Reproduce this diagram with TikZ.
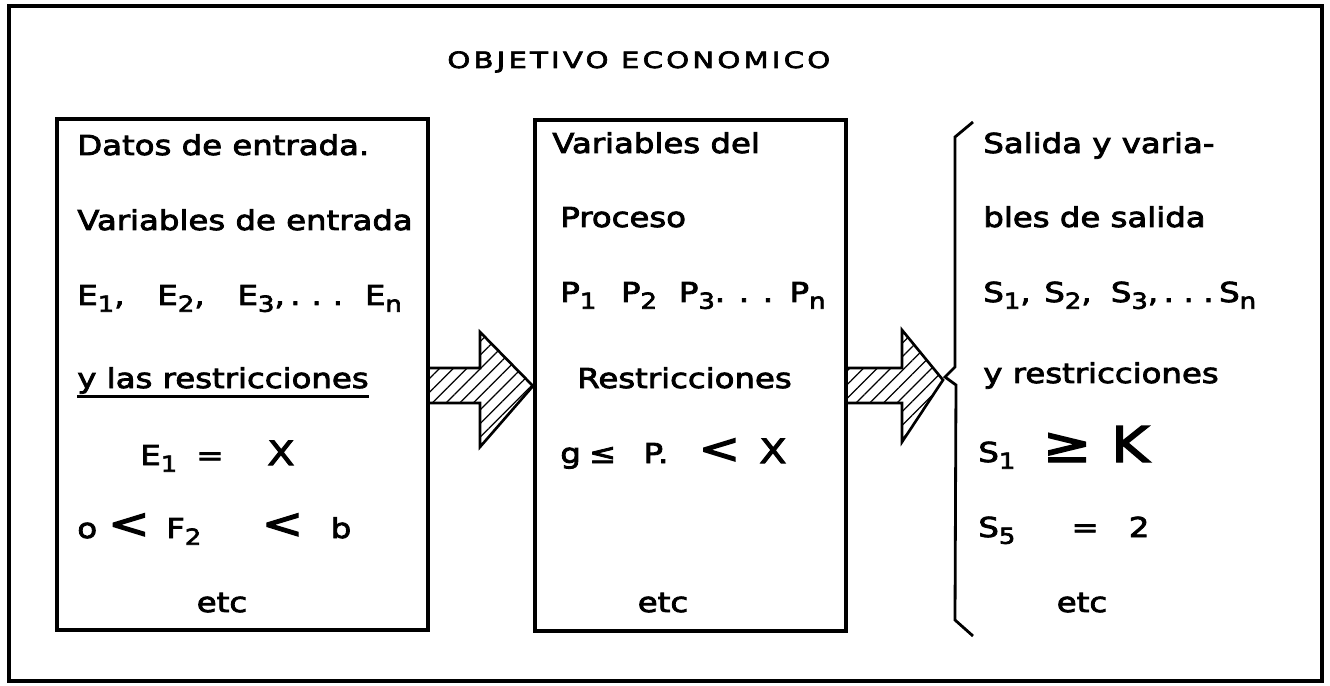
\documentclass[tikz,border=0pt]{standalone}
\usepackage{fontspec}
\setmainfont{DejaVu Sans}[FakeStretch=1.18,FakeBold=3]
\newfontfamily\titlefont{DejaVu Sans}[FakeStretch=1.3,LetterSpace=14,FakeBold=3]
\usetikzlibrary{patterns.meta}
\newcommand\idx[1]{\raisebox{-0.45ex}{\fontsize{12.5}{12.5}\selectfont #1}}
\newcommand\hwsym[1]{{\fontsize{24}{24}\selectfont #1}}
\tikzset{
  frame/.style={line width=2pt,black},
  blk/.style={line width=2pt,black},
  txt/.style={anchor=base west,inner sep=0pt,font=\fontsize{15.6}{18}\selectfont},
  ctxt/.style={anchor=base,inner sep=0pt,font=\fontsize{15.6}{18}\selectfont},
  ttl/.style={anchor=base west,inner sep=0pt,font=\titlefont\fontsize{12.8}{14}\selectfont},
  fatarrow/.style={line width=1.5pt,black,line join=miter,pattern={Lines[angle=45,distance=5.5pt,line width=0.7pt]}},
  brk/.style={line width=1.6pt,black,line join=miter},
  uline/.style={line width=1.4pt,black},
}

\begin{document}
\begin{tikzpicture}
  \useasboundingbox (0,0) rectangle (26.6,13.7);
  \draw[frame] (0.18,0.08) rectangle (26.44,13.58);
  \node[ttl](obj) at (8.94,12.34){OBJETIVO ECONOMICO};
  % boxes
  \draw[blk] (1.14,1.10) rectangle (8.56,11.32);
  \draw[blk] (10.70,1.08) rectangle (16.92,11.30);
  \draw[brk] (19.46,11.26) -- (19.10,10.96) -- (19.10,6.36) -- (18.90,6.16) -- (19.12,6.00) -- (19.10,1.30) -- (19.46,0.98);
  % hatched arrows
  \draw[fatarrow] (8.56,6.34) -- (9.60,6.34) -- (9.60,7.06) -- (10.66,5.98) -- (9.60,4.76) -- (9.60,5.64) -- (8.56,5.64) -- cycle;
  \draw[fatarrow] (16.92,6.34) -- (18.04,6.34) -- (18.04,7.10) -- (18.86,6.10) -- (18.04,4.86) -- (18.04,5.64) -- (16.92,5.64) -- cycle;
  % entrada
  \node[txt](in1) at (1.54,10.60){Datos de entrada.};
  \node[txt](in2) at (1.54,9.10){Variables de entrada};
  \node[txt](in3) at (1.54,7.60){E\idx{1},\hspace{1.2em}E\idx{2},\hspace{1.2em}E\idx{3},\hspace{0.2em}.\hspace{0.4em}.\hspace{0.4em}.\hspace{0.8em}E\idx{n}};
  \node[txt](in4) at (1.54,5.94){y las restricciones};
  \draw[uline] ([yshift=-0.17cm]in4.base west) -- ([yshift=-0.17cm]in4.base east);
  \node[txt](in5) at (2.80,4.40){E\idx{1}\hspace{0.7em}=\hspace{1.6em}{\fontsize{19}{19}\selectfont X}};
  \node[txt](in6) at (1.54,2.94){o\hspace{0.4em}\hwsym{<}\hspace{0.6em}F\idx{2}\hspace{2.2em}\hwsym{<}\hspace{1em}b};
  \node[ctxt](in7) at (4.44,1.46){etc};
  % proceso
  \node[txt](pr1) at (11.04,10.64){Variables del};
  \node[txt](pr2) at (11.20,9.16){Proceso};
  \node[txt](pr3) at (11.20,7.66){P\idx{1}\hspace{0.9em}P\idx{2}\hspace{0.8em}P\idx{3}.\hspace{0.5em}.\hspace{0.5em}.\hspace{0.6em}P\idx{n}};
  \node[txt](pr4) at (11.54,5.94){Restricciones};
  \node[txt](pr5) at (11.20,4.44){g\hspace{0.3em}≤\hspace{1em}P.\hspace{1.1em}\hwsym{<}\hspace{0.7em}{\fontsize{19}{19}\selectfont X}};
  \node[ctxt](pr6) at (13.26,1.46){etc};
  % salida
  \node[txt](out1) at (19.66,10.64){Salida y varia-};
  \node[txt](out2) at (19.66,9.16){bles de salida};
  \node[txt](out3) at (19.66,7.66){S\idx{1},\hspace{0.5em}S\idx{2},\hspace{0.7em}S\idx{3},\hspace{0.2em}.\hspace{0.35em}.\hspace{0.35em}.\hspace{0.2em}S\idx{n}};
  \node[txt](out4) at (19.66,6.04){y restricciones};
  \node[txt](out5) at (19.56,4.46){S\idx{1}\hspace{1em}{\fontsize{28}{28}\selectfont ≥\hspace{0.4em}K}};
  \node[txt](out6) at (19.56,2.96){S\idx{5}\hspace{2.05em}=\hspace{1.1em}2};
  \node[ctxt](out7) at (21.64,1.46){etc};
\end{tikzpicture}
\end{document}
